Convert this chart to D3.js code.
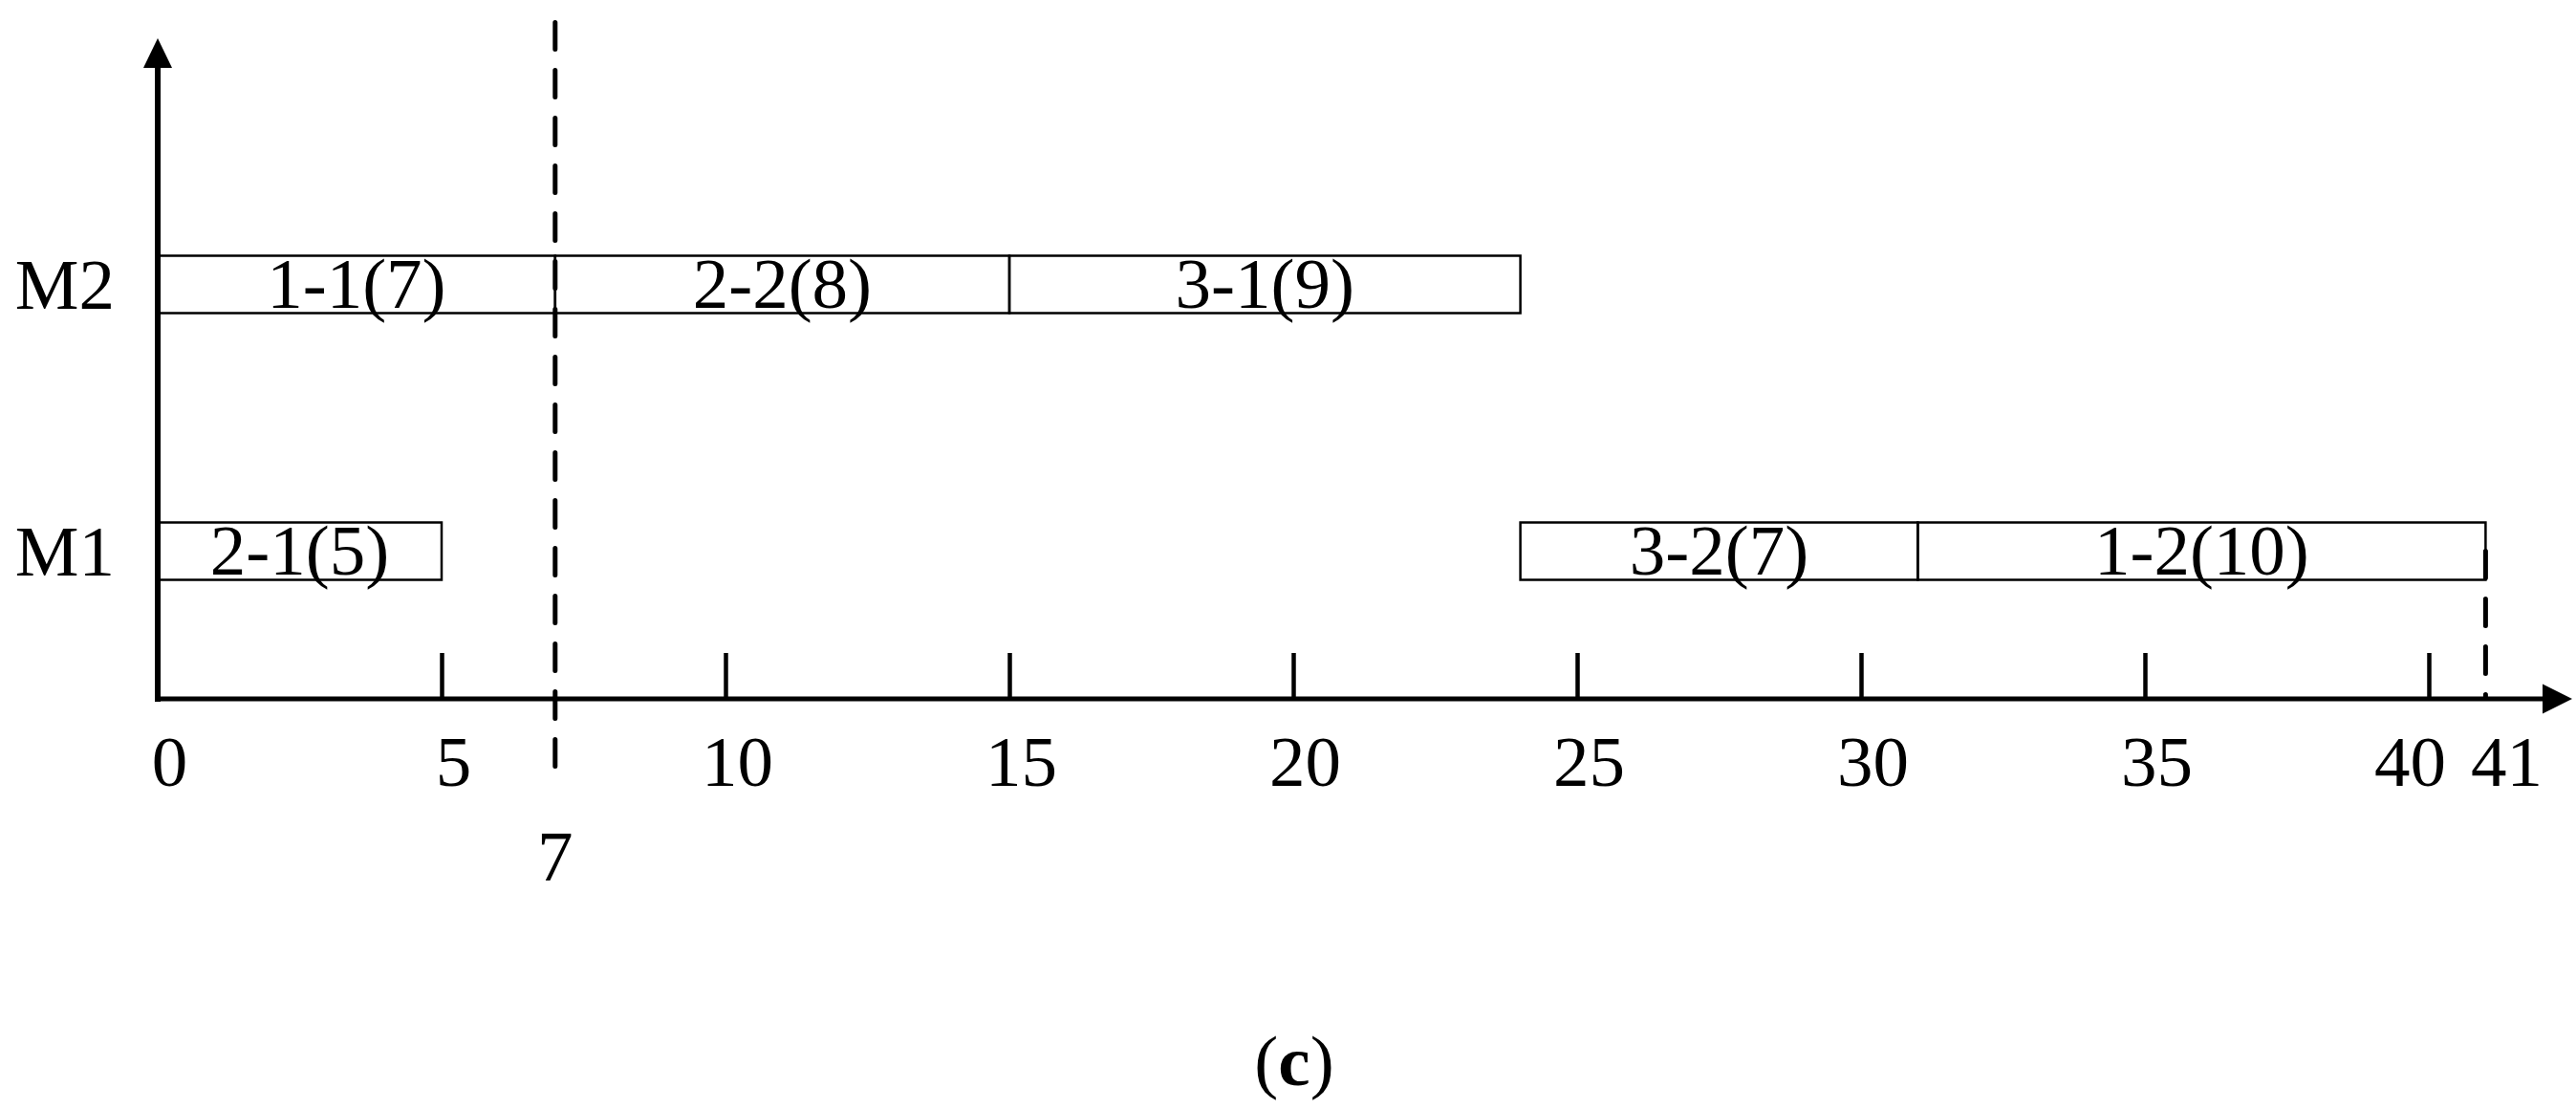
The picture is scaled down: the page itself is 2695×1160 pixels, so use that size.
<!DOCTYPE html>
<html>
<head>
<meta charset="utf-8">
<script src="https://cdn.jsdelivr.net/npm/d3@7"></script>
<style>
  html, body { margin: 0; padding: 0; background: #fff; }
  svg { display: block; }
  text { font-family: "Liberation Serif", "Times New Roman", serif; fill: #000; }
</style>
</head>
<body>
<svg id="chart" width="2695" height="1160"></svg>
<script>
// ---- data ----
const machines = ["M2", "M1"];
const operations = ["1-1", "2-2", "3-1", "2-1", "3-2", "1-2"];
const opMachine = ["M2", "M2", "M2", "M1", "M1", "M1"];
const opStart = [0, 7, 15, 0, 24, 31];
const opDuration = [7, 8, 9, 5, 7, 10];
const xTicks = [0, 5, 10, 15, 20, 25, 30, 35, 40];
const cutTime = 7;       // dashed reference line
const makespan = 41;     // completion time
const caption = "c";

// ---- layout ----
const W = 2695, H = 1160;
const originX = 165, axisY = 731;
const svg = d3.select("#chart");
svg.append("rect").attr("width", W).attr("height", H).attr("fill", "#fff");

const x = d3.scaleLinear().domain([0, 40]).range([originX, 2541]);
const y = d3.scalePoint().domain(machines).range([297.5, 576.5]);
const barH = 60;
const fontSize = 75;

const ops = operations.map((o, i) => ({
  op: o, m: opMachine[i], s: opStart[i], d: opDuration[i]
}));

// bars
const g = svg.append("g");
g.selectAll("rect.op").data(ops).enter().append("rect")
  .attr("class", "op")
  .attr("x", d => x(d.s))
  .attr("y", d => y(d.m) - barH / 2)
  .attr("width", d => x(d.s + d.d) - x(d.s))
  .attr("height", barH)
  .attr("fill", "none")
  .attr("stroke", "#000")
  .attr("stroke-width", 2.5);

g.selectAll("text.op").data(ops).enter().append("text")
  .attr("class", "op")
  .attr("x", d => x(d.s + d.d / 2))
  .attr("y", d => y(d.m) + 24.5)
  .attr("text-anchor", "middle")
  .attr("font-size", fontSize)
  .text(d => `${d.op}(${d.d})`);

// machine labels
svg.selectAll("text.mach").data(machines).enter().append("text")
  .attr("class", "mach")
  .attr("x", originX - 45)
  .attr("y", d => y(d) + 25.5)
  .attr("text-anchor", "end")
  .attr("font-size", fontSize)
  .text(d => d);

// x axis ticks + labels via d3 axis
const axis = d3.axisBottom(x).tickValues(xTicks).tickSizeInner(-48).tickSizeOuter(0).tickFormat(d3.format("d"));
const ax = svg.append("g").attr("transform", `translate(0,${axisY})`).call(axis);
ax.select(".domain").remove();
ax.selectAll(".tick line").attr("stroke", "#000").attr("stroke-width", 4.5)
  .attr("y2", -48);
ax.selectAll(".tick").filter(d => d === 0).select("line").remove();
ax.selectAll(".tick text")
  .attr("y", 91).attr("dy", 0)
  .attr("font-family", "Liberation Serif, Times New Roman, serif")
  .attr("font-size", fontSize)
  .attr("fill", "#000")
  .attr("dx", (d, i, n) => i === n.length - 1 ? -20 : 12);

// axis lines with arrows
svg.append("line").attr("x1", originX).attr("y1", axisY).attr("x2", 2665).attr("y2", axisY)
  .attr("stroke", "#000").attr("stroke-width", 5).attr("stroke-linecap", "square");
svg.append("path").attr("d", `M2691,${axisY} L2660,${axisY - 15.5} L2660,${axisY + 15.5} Z`).attr("fill", "#000");
svg.append("line").attr("x1", originX).attr("y1", axisY).attr("x2", originX).attr("y2", 66)
  .attr("stroke", "#000").attr("stroke-width", 6).attr("stroke-linecap", "square");
svg.append("path").attr("d", `M${originX},40 L${originX - 15},71 L${originX + 15},71 Z`).attr("fill", "#000");

// dashed reference lines
svg.append("line")
  .attr("x1", x(cutTime)).attr("x2", x(cutTime))
  .attr("y1", 23.5).attr("y2", 806)
  .attr("stroke", "#000").attr("stroke-width", 5)
  .attr("stroke-linecap", "round").attr("stroke-dasharray", "28 22");
svg.append("text")
  .attr("x", x(cutTime)).attr("y", 920.5)
  .attr("text-anchor", "middle").attr("font-size", fontSize)
  .text(cutTime);

svg.append("line")
  .attr("x1", x(makespan)).attr("x2", x(makespan))
  .attr("y1", y("M1")).attr("y2", axisY - 2)
  .attr("stroke", "#000").attr("stroke-width", 5)
  .attr("stroke-linecap", "round").attr("stroke-dasharray", "28 22");
svg.append("text")
  .attr("x", x(makespan) + 22).attr("y", axisY + 91)
  .attr("text-anchor", "middle").attr("font-size", fontSize)
  .text(makespan);

// caption
const cap = svg.append("text").attr("x", 1354).attr("y", 1135)
  .attr("text-anchor", "middle").attr("font-size", fontSize);
cap.append("tspan").text("(");
cap.append("tspan").attr("font-weight", "bold").text(caption);
cap.append("tspan").text(")");
</script>
</body>
</html>
